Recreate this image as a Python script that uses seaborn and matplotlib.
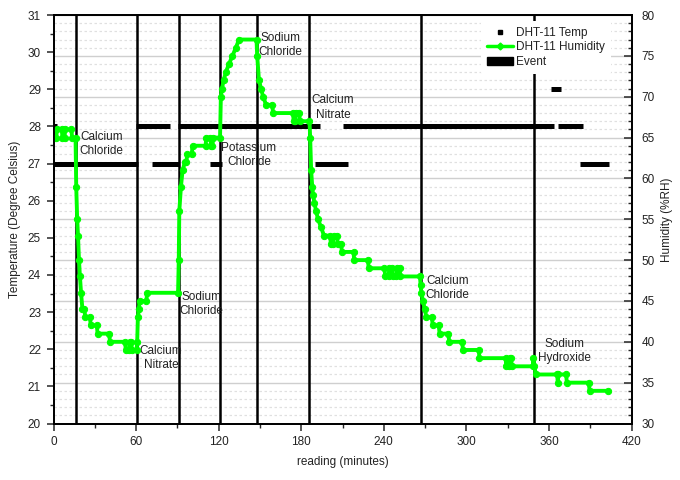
"""
DHT-11 temperature / humidity log with salt-solution events.
"""
import numpy as np
import pandas as pd
import matplotlib
matplotlib.use("Agg")
import matplotlib.pyplot as plt
from matplotlib.lines import Line2D
from matplotlib.patches import Patch
from matplotlib.ticker import MultipleLocator
import seaborn as sns

# --- data ------------------------------------------------------------------
# temperature readings: constant runs (start min, end min, degC)
temp_start = [0, 0, 59.6, 71.2, 90.2, 113.4, 189.7, 210.1, 361.3, 366.4, 382.4]
temp_end = [2.2, 61.5, 84.3, 90.9, 193.4, 122.1, 213.7, 363.5, 368.6, 384.6, 403.5]
temp_value = [28, 27, 28, 27, 28, 27, 27, 28, 29, 28, 27]

# humidity readings (minutes, %RH)
hum_time = [0, 2, 2.5, 6, 6.5, 8, 8.5, 13, 13.5, 16,
            16.5, 17.2, 17.8, 18.5, 19.2, 20, 21, 22.5, 23, 26.5,
            27, 31.5, 32, 40.5, 41, 52, 52.5, 55, 55.5, 56.5,
            57, 60.3, 60.8, 61.3, 62, 62.5, 67.5, 68, 90.5, 91,
            91.4, 92.6, 93.8, 95.5, 96.5, 97.2, 100.5, 101, 110.5, 111,
            114, 114.5, 115.5, 116, 121, 121.6, 122.4, 123.6, 125.2, 127.5,
            130, 132.5, 134.8, 147.5, 148, 149.3, 150.8, 152.3, 154.5, 159,
            159.5, 174, 174.5, 175.5, 176, 178.5, 179, 186, 186.5, 187.2,
            188, 188.6, 189.6, 190.8, 192.2, 194.5, 196.5, 201, 201.5, 203,
            203.5, 206, 206.5, 209, 209.5, 218, 218.5, 228.5, 229, 240.5,
            241, 243.5, 244, 246, 246.5, 249, 249.5, 251.5, 252, 266.3,
            266.7, 267.3, 268.5, 269.7, 271, 275, 275.5, 280, 280.5, 287,
            287.5, 297, 297.5, 309, 309.5, 328.5, 329, 331, 331.5, 332.5,
            333, 348.3, 348.6, 349.4, 350.5, 366, 366.4, 366.9, 372.5, 373,
            389, 389.5, 403]
hum_rh = [65, 65, 66, 66, 65, 65, 66, 66, 65, 65,
          59, 55, 53, 50, 48, 46, 44, 44, 43, 43,
          42, 42, 41, 41, 40, 40, 39, 39, 40, 40,
          39, 39, 40, 43, 44, 45, 45, 46, 46, 50,
          56, 59, 61, 62, 62, 63, 63, 64, 64, 65,
          65, 64, 64, 65, 65, 70, 71, 72, 73, 74,
          75, 76, 77, 77, 75, 72, 71, 70, 69, 69,
          68, 68, 67, 67, 68, 68, 67, 67, 65, 61,
          59, 58, 57, 56, 55, 54, 53, 53, 52, 52,
          53, 53, 52, 52, 51, 51, 50, 50, 49, 49,
          48, 48, 49, 49, 48, 48, 49, 49, 48, 48,
          47, 46, 45, 44, 43, 43, 42, 42, 41, 41,
          40, 40, 39, 39, 38, 38, 37, 37, 38, 38,
          37, 37, 38, 37, 36, 36, 35, 36, 36, 35,
          35, 34, 34]

# events (minutes) and their labels
event_time = [16, 60.5, 91, 121, 148, 186, 267, 349]
label_text = ["Calcium\nChloride", "Calcium\nNitrate", "Sodium\nChloride",
              "Potassium\nChloride", "Sodium\nChloride", "Calcium\nNitrate",
              "Calcium\nChloride", "Sodium\nHydroxide"]
label_x = [35, 78, 107.5, 142, 165, 203, 286.5, 371.5]
label_y = [27.52, 21.77, 23.21, 27.24, 30.19, 28.51, 23.65, 21.96]

GREEN = "#00ff00"
TXT = "#222222"

sns.set_style("ticks")
plt.rcParams["font.family"] = ["Liberation Sans", "DejaVu Sans"]
plt.rcParams["axes.edgecolor"] = "black"

fig = plt.figure(figsize=(6.8, 4.8), dpi=100)
rect = [0.0787, 0.1177, 0.850, 0.8510]

# background axes: grid on humidity scale
axg = fig.add_axes(rect)
axg.set_ylim(30, 80)
axg.set_xlim(0, 420)
axg.yaxis.set_major_locator(MultipleLocator(5))
axg.yaxis.set_minor_locator(MultipleLocator(1))
axg.grid(which="major", axis="y", color="#cfcfcf", lw=1.0, ls="-")
axg.grid(which="minor", axis="y", color="#e0e0e0", lw=0.9, ls=(0, (2, 2)))
axg.grid(which="major", axis="x", visible=False)
axg.tick_params(which="both", left=False, bottom=False, labelleft=False, labelbottom=False)
for s in axg.spines.values():
    s.set_visible(False)

# temperature axes
ax1 = fig.add_axes(rect)
ax1.patch.set_visible(False)
ax1.hlines(temp_value, temp_start, temp_end, colors="black", lw=3.6)
for t in event_time:
    ax1.axvline(t, color="black", lw=1.8)
for txt, x, y in zip(label_text, label_x, label_y):
    ax1.text(x, y, txt, ha="center", va="center", fontsize=8.5,
             color=TXT, linespacing=1.25, multialignment="center")
ax1.set_xlim(0, 420)
ax1.set_ylim(20, 31)
ax1.xaxis.set_major_locator(MultipleLocator(60))
ax1.xaxis.set_minor_locator(MultipleLocator(30))
ax1.yaxis.set_major_locator(MultipleLocator(1))
ax1.yaxis.set_minor_locator(MultipleLocator(0.5))
ax1.tick_params(which="major", direction="out", length=5, width=1.1,
                labelsize=8.5, labelcolor=TXT, pad=4)
ax1.tick_params(which="minor", direction="out", length=3, width=1.0)
ax1.set_xlabel("reading (minutes)", fontsize=8.5, color=TXT, labelpad=6)
ax1.set_ylabel("Temperature (Degree Celsius)", fontsize=8.5, color=TXT, labelpad=5)

# humidity axes
ax2 = ax1.twinx()
hum = pd.DataFrame({"minutes": hum_time, "rh": hum_rh})
sns.lineplot(data=hum, x="minutes", y="rh", ax=ax2, color=GREEN, lw=2.8,
             marker="o", markersize=4.5, markeredgecolor=GREEN,
             sort=False, estimator=None, legend=False)
ax2.set_ylim(30, 80)
ax2.set_xlim(0, 420)
ax2.yaxis.set_major_locator(MultipleLocator(5))
ax2.yaxis.set_minor_locator(MultipleLocator(1))
ax2.tick_params(which="major", direction="in", length=6, width=1.1,
                labelsize=8.5, labelcolor=TXT, pad=7)
ax2.tick_params(which="minor", direction="in", length=3, width=1.0)
ax2.set_xlabel("")
ax2.set_ylabel("Humidity (%RH)", fontsize=8.5, color=TXT, labelpad=5)

for ax in (ax1, ax2):
    for s in ax.spines.values():
        s.set_visible(True)
        s.set_color("black")
        s.set_linewidth(1.3)

handles = [
    Line2D([], [], marker="s", color="black", ls="none", markersize=3.5),
    Line2D([], [], marker="D", color=GREEN, lw=2.5, markersize=3.5),
    Patch(facecolor="black", edgecolor="black"),
]
leg = ax2.legend(handles, ["DHT-11 Temp", "DHT-11 Humidity", "Event"],
                 loc="upper right", bbox_to_anchor=(0.975, 1.0), fontsize=8.5,
                 frameon=True, framealpha=1, handlelength=2.2,
                 handletextpad=0.3, labelspacing=0.22, borderpad=0.5)
leg.get_frame().set_linewidth(0)
leg.get_frame().set_facecolor("white")
for t in leg.get_texts():
    t.set_color(TXT)

fig.savefig("out.png", dpi=100)
